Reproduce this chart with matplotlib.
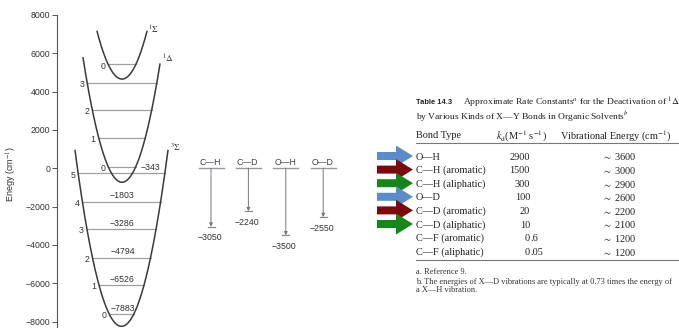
import matplotlib
matplotlib.use('Agg')
import matplotlib.pyplot as plt
import numpy as np
from matplotlib.patches import FancyArrow

plt.rcParams['mathtext.fontset'] = 'stix'
plt.rcParams['font.family'] = ['Liberation Sans', 'DejaVu Sans']

W, H, DPI = 679, 331, 100

# ---------------- data ----------------
curve_labels = ['$^3\\Sigma$', '$^1\\Delta$', '$^1\\Sigma$']
curve_center = [121.5, 122.0, 122.0]
curve_min = [-8250, -730, 4655]
curve_k = [4.25, 4.28, 4.0]
curve_xl = [75, 83, 97]
curve_xr = [168, 160, 147]
curve_label_e = [1100, 5700, 7200]

ground_levels = [-7610, -6096, -4671, -3173, -1748, -266]
ground_values = ['\u22127883', '\u22126526', '\u22124794', '\u22123286', '\u22121803', '\u2212343']
ground_v = ['0', '1', '2', '3', '4', '5']
delta_levels = [60, 1580, 3040, 4460]
delta_v = ['0', '1', '2', '3']
sigma_levels = [5420]
sigma_v = ['0']

bond_names = ['C\u2014H', 'C\u2014D', 'O\u2014H', 'O\u2014D']
bond_energy = [-3050, -2240, -3500, -2550]
bond_labels = ['\u22123050', '\u22122240', '\u22123500', '\u22122550']

yticks = [-8000, -6000, -4000, -2000, 0, 2000, 4000, 6000, 8000]

table_bonds = ['O\u2014H', 'C\u2014H (aromatic)', 'C\u2014H (aliphatic)', 'O\u2014D',
               'C\u2014D (aromatic)', 'C\u2014D (aliphatic)', 'C\u2014F (aromatic)', 'C\u2014F (aliphatic)']
table_kd = ['2900', '1500', '300', '100', '20', '10', '0.6', '0.05']
table_vib = ['3600', '3000', '2900', '2600', '2200', '2100', '1200', '1200']
arrow_colors = ['#5a8ccc', '#7d0a0a', '#14861a', '#5a8ccc', '#7d0a0a', '#14861a']

# ---------------- figure ----------------
fig = plt.figure(figsize=(W / DPI, H / DPI), dpi=DPI)

# energy diagram axes (x in pixel-like units)
px_top, px_bot = 15, 327.3
ax = fig.add_axes([57 / W, 1 - px_bot / H, (360 - 57) / W, (px_bot - px_top) / H])
ax.set_xlim(57, 360)
ax.set_ylim(-8300, 8000)
for s in ['top', 'right', 'bottom']:
    ax.spines[s].set_visible(False)
ax.spines['left'].set_color('#555555')
ax.spines['left'].set_linewidth(0.8)
ax.set_xticks([])
ax.set_yticks(yticks)
ax.tick_params(axis='y', direction='out', length=3.5, width=0.7, color='#555555',
               labelsize=6.3, labelcolor='#333333', pad=1.5)
ax.text(-45 / 303, 0.49, 'Enegy (cm$^{-1}$)', fontsize=6.5, color='#333333', rotation=90,
        ha='center', va='center', transform=ax.transAxes)

curve_col = '#3a3a3a'
level_col = '#a0a0a0'
txt_col = '#333333'


def half_width(i, e):
    return np.sqrt(max(e - curve_min[i], 0) / curve_k[i])


for i in range(3):
    xs = np.linspace(curve_xl[i], curve_xr[i], 300)
    ys = curve_min[i] + curve_k[i] * (xs - curve_center[i]) ** 2
    ax.plot(xs, ys, color=curve_col, lw=1.1, solid_capstyle='round', zorder=3)
    xe = curve_xr[i]
    ax.text(xe + 1.5, curve_label_e[i], curve_labels[i], fontsize=6.5, color=txt_col,
            ha='left', va='center')


def draw_levels(i, levels, vlabels):
    for e, v in zip(levels, vlabels):
        hw = half_width(i, e)
        xl, xr = curve_center[i] - hw, curve_center[i] + hw
        ax.plot([xl, xr], [e, e], color=level_col, lw=0.9, zorder=2)
        ax.annotate(v, (xl, e), xytext=(-2.2, -1.2), textcoords='offset points',
                    ha='right', va='center', fontsize=6.3, color=txt_col)


draw_levels(0, ground_levels, ground_v)
draw_levels(1, delta_levels, delta_v)
draw_levels(2, sigma_levels, sigma_v)

for j, (e, s) in enumerate(zip(ground_levels, ground_values)):
    if j == len(ground_levels) - 1:
        hw = half_width(0, e)
        ax.annotate(s, (curve_center[0] + hw, e), xytext=(-3.0, 4.3), textcoords='offset points',
                    ha='right', va='center', fontsize=6.3, color=txt_col)
    else:
        ax.annotate(s, (curve_center[0] + 1, e), xytext=(0, 4.3), textcoords='offset points',
                    ha='center', va='center', fontsize=6.3, color=txt_col)

# bond vibrational energies
bond_x0, bond_dx = 211, 37.4
for j, (nm, e, lab) in enumerate(zip(bond_names, bond_energy, bond_labels)):
    x = bond_x0 + j * bond_dx
    ax.plot([x - 12.5, x + 12.5], [0, 0], color='#999999', lw=1.0)
    ax.annotate(nm, (x, 0), xytext=(-0.5, 1.2), textcoords='offset points', ha='center',
                va='bottom', fontsize=6.3, color='#3c4150')
    ax.annotate('', xy=(x, e), xytext=(x, 0),
                arrowprops=dict(arrowstyle='-|>', color='#777777', lw=0.7,
                                mutation_scale=5, shrinkA=0, shrinkB=0))
    ax.plot([x - 3.5, x + 3.5], [e, e], color='#888888', lw=0.9)
    ax.annotate(lab, (x, e), xytext=(-1, -8.0), textcoords='offset points', ha='center',
                va='center', fontsize=6.3, color=txt_col)

# ---------------- table (pixel overlay) ----------------
ov = fig.add_axes([0, 0, 1, 1], zorder=-1)
ov.set_xlim(0, W)
ov.set_ylim(H, 0)
ov.axis('off')

serif = ['Liberation Serif', 'DejaVu Serif']
tx0 = 416
ov.text(tx0, 103, 'Table 14.3', fontsize=5.4, fontweight='bold', family=['Liberation Sans'],
        ha='left', va='center', color='#222222')
ov.text(463, 103, 'Approximate Rate Constants$^{a}$ for the Deactivation of $^{1}\\Delta$',
        fontsize=6.8, family=serif, ha='left', va='center', color='#222222')
ov.text(tx0, 117, 'by Various Kinds of X\u2014Y Bonds in Organic Solvents$^{b}$',
        fontsize=6.8, family=serif, ha='left', va='center', color='#222222')

fs = 7.4
ov.text(tx0, 136, 'Bond Type', fontsize=fs, family=serif, ha='left', va='center', color='#222222')
ov.text(521, 136, '$k_{\\rm d}$(M$^{-1}$ s$^{-1}$)', fontsize=fs, family=serif, ha='center',
        va='center', color='#222222')
ov.text(616, 136, 'Vibrational Energy (cm$^{-1}$)', fontsize=fs, family=serif, ha='center',
        va='center', color='#222222')
ov.plot([tx0, 678], [143, 143], color='#777777', lw=0.8)

row_y0, row_dy = 157, 13.6
for i, (b, k, v) in enumerate(zip(table_bonds, table_kd, table_vib)):
    y = row_y0 + i * row_dy
    ov.text(tx0, y, b, fontsize=fs, family=serif, ha='left', va='center', color='#222222')
    if '.' in k:
        ip, fp = k.split('.')
        ov.text(530, y, ip, fontsize=fs, family=serif, ha='right', va='center', color='#222222')
        ov.text(530, y, '.' + fp, fontsize=fs, family=serif, ha='left', va='center', color='#222222')
    else:
        ov.text(530, y, k, fontsize=fs, family=serif, ha='right', va='center', color='#222222')
    ov.text(637, y, '$\\sim$ ' + v, fontsize=fs, family=serif, ha='right', va='center',
            color='#222222')
ov.plot([tx0, 678], [260, 260], color='#777777', lw=0.8)

fn = 6.0
ov.text(tx0, 272, 'a. Reference 9.', fontsize=fn, family=serif, ha='left', va='center',
        color='#333333')
ov.text(tx0, 282, 'b. The energies of X\u2014D vibrations are typically at 0.73 times the energy of',
        fontsize=fn, family=serif, ha='left', va='center', color='#333333')
ov.text(tx0, 290, 'a X\u2014H vibration.', fontsize=fn, family=serif, ha='left', va='center',
        color='#333333')

# arrows pointing at rows
for i, c in enumerate(arrow_colors):
    y = row_y0 - 1 + i * row_dy
    ov.add_patch(FancyArrow(377, y, 36, 0, width=8, head_width=21, head_length=17,
                            length_includes_head=True, color=c, lw=0))

fig.savefig('out.png', dpi=DPI)
